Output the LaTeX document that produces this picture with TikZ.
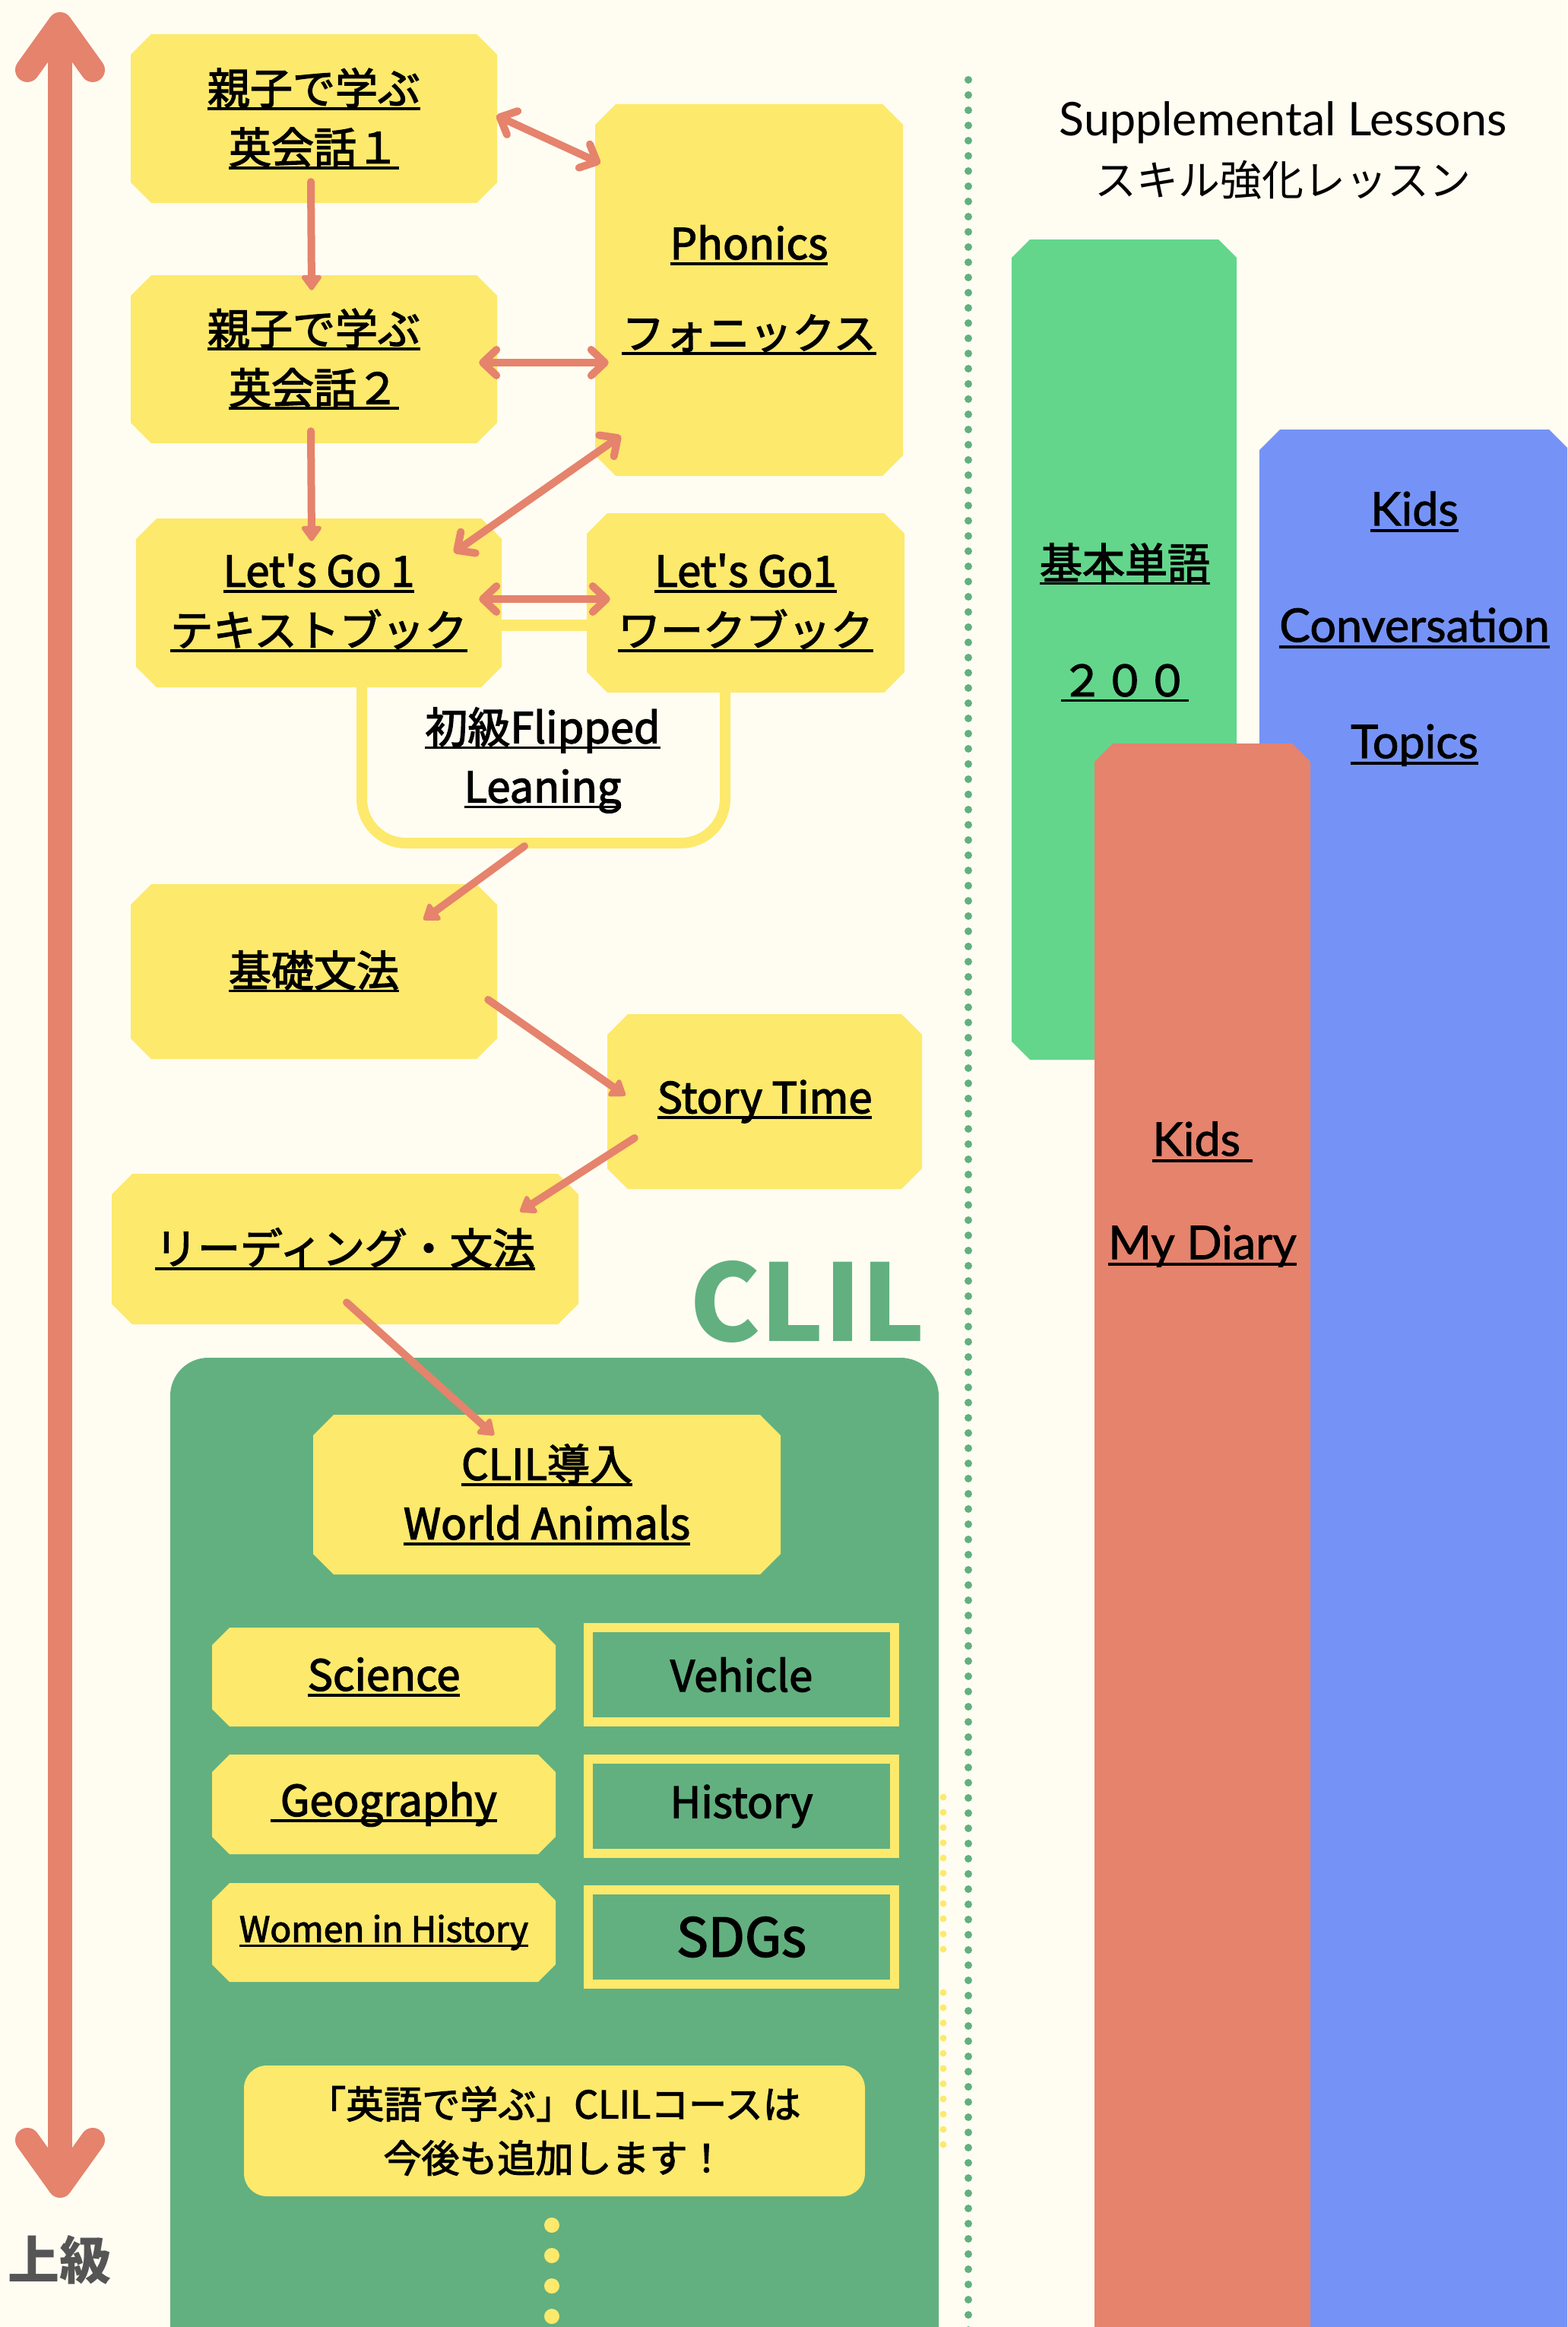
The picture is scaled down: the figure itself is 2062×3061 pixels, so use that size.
\documentclass[tikz,border=0pt]{standalone}
\usepackage{fontspec}
\usetikzlibrary{arrows.meta}
\newfontfamily\jp{Noto Sans CJK JP}[FakeBold=2.4]
\newfontfamily\jpb{Noto Sans CJK JP}
\newfontfamily\lato{Lato}
\newfontfamily\latom{Lato}[FakeBold=1.4]
\font\aposfont="Noto Sans CJK JP:embolden=2.4" at 56pt
\definecolor{cBg}{HTML}{FFFDF2}
\definecolor{cY}{HTML}{FDE96C}
\definecolor{cR}{HTML}{E5836D}
\definecolor{cG}{HTML}{62B07F}
\definecolor{cGr}{HTML}{63D68C}
\definecolor{cB}{HTML}{7593F7}
\definecolor{cGray}{HTML}{555555}
\newsavebox\ulbox
\newcommand\ulx[1]{\leavevmode\sbox\ulbox{#1}\rlap{\rule[-0.14em]{\wd\ulbox}{0.065em}}\usebox\ulbox}
\newcommand\apos{{\aposfont'}}
\tikzset{
  boxtxt/.style={font=\jp\fontsize{56}{78}\selectfont, align=center, inner sep=0pt, text=black},
  sarr/.style={draw=cR, line width=10pt, line cap=round, -{Triangle[width=30pt,length=22pt,round]}},
  darr/.style={draw=cR, line width=10pt, line cap=round, {Straight Barb[length=18pt,width=34pt,round]}-{Straight Barb[length=18pt,width=34pt,round]}},
  bigarr/.style={draw=cR, line width=32pt, {Straight Barb[length=60pt,width=86pt,round]}-{Straight Barb[length=60pt,width=86pt,round]}},
  greenbox/.style={boxtxt, fill=cG, draw=cY, line width=12pt, minimum width=403pt, minimum height=124pt},
}
\newcommand\chbox[8][27]{%
  \fill[#7] (#3+#1,#4) -- (#5-#1,#4) -- (#5,#4+#1) -- (#5,#6-#1) -- (#5-#1,#6) -- (#3+#1,#6) -- (#3,#6-#1) -- (#3,#4+#1) -- cycle;
  \node[boxtxt, minimum width={#5-#3}, minimum height={#6-#4}] (#2) at ({(#3+#5)/2},{(#4+#6)/2}) {#8};}
\begin{document}
\begin{tikzpicture}[x=1pt,y=-1pt]
\useasboundingbox (0,0) rectangle (2062,3061);
\clip (0,0) rectangle (2062,3061);
\fill[cBg] (0,0) rectangle (2062,3061);

% ---------- right column ----------
\node[font=\lato\fontsize{61}{70}\selectfont, anchor=base] (t1) at (1688,179) {Supplemental Lessons};
\node[font=\jpb\fontsize{55}{66}\selectfont, anchor=base] (t2) at (1688,258) {スキル強化レッスン};
\fill[cGr] (1355,315) -- (1603,315) -- (1627,339) -- (1627,1370) -- (1603,1394) -- (1355,1394) -- (1331,1370) -- (1331,339) -- cycle;
\fill[cB] (1684,565) -- (2038,565) -- (2065,592) -- (2065,3100) -- (1657,3100) -- (1657,592) -- cycle;
\fill[cR] (1440,1002) -- (1464,978) -- (1700,978) -- (1724,1002) -- (1724,3100) -- (1440,3100) -- cycle;
\node[align=center, font=\jp\fontsize{56}{77}\selectfont] (vocab) at (1480,819) {\ulx{基本単語}\\[77pt]\ulx{２００}};
\node[align=center, font=\latom\fontsize{61}{153}\selectfont] (kct) at (1861,827) {\ulx{Kids}\\\ulx{Conversation}\\\ulx{Topics}};
\node[align=center, font=\latom\fontsize{61}{136}\selectfont] (kmd) at (1582,1571) {\ulx{Kids\ }\\\ulx{My Diary}};

% dotted separators
\draw[cG, line width=10pt, line cap=round, dash pattern=on 0pt off 20pt] (1274,105) -- (1274,3080);
\draw[cY, line width=9pt, line cap=round, dash pattern=on 0pt off 20pt] (1241,2364) -- (1241,2570);
\draw[cY, line width=9pt, line cap=round, dash pattern=on 0pt off 20pt] (1241,2621) -- (1241,2827);

% ---------- CLIL area ----------
\fill[cG, rounded corners=50pt] (224,1786) rectangle (1235,3140);
\node[font=\jpb\bfseries\fontsize{140}{150}\selectfont, text=cG, anchor=base] (clil) at (1062,1764) {CLIL};

% ---------- level arrow ----------
\coordinate (atop) at (79,16);
\coordinate (abot) at (79,2891);
\draw[bigarr] (atop) -- (abot);
\node[font=\jpb\bfseries\fontsize{68}{70}\selectfont, text=cGray] (jokyu) at (78,2973) {上級};

% ---------- course boxes ----------
\chbox{b1}{172}{45}{654}{267}{cY}{\ulx{親子で学ぶ}\\\ulx{英会話１}}
\chbox{b2}{172}{362}{654}{583}{cY}{\ulx{親子で学ぶ}\\\ulx{英会話２}}
\chbox{ph}{783}{137}{1188}{626}{cY}{\ulx{Phonics}\\[40pt]\ulx{フォニックス}}
\chbox{lg1}{179}{682}{660}{904}{cY}{\ulx{Let\apos s Go 1}\\\ulx{テキストブック}}
\chbox{lgwb}{772}{675}{1190}{911}{cY}{\ulx{Let\apos s Go1}\\\ulx{ワークブック}}
\draw[cY, line width=15pt] ([shift={(-2,29.5)}]lg1.east) -- ([shift={(2,29.5)}]lgwb.west);
\coordinate (fl) at (476,1109);
\coordinate (fr) at (954,1109);
\draw[cY, line width=14pt, rounded corners=58pt] ([shift={(56.5,-4)}]lg1.south) -- (fl) -- (fr) -- ([shift={(-27,-4)}]lgwb.south);
\node[boxtxt] (flip) at (714,1000) {\ulx{初級Flipped}\\\ulx{Leaning}};
\chbox{kiso}{172}{1163}{654}{1393}{cY}{\ulx{基礎文法}}
\chbox{story}{799}{1334}{1213}{1564}{cY}{\ulx{Story Time}}
\chbox{read}{147}{1544}{761}{1742}{cY}{\ulx{リーディング・文法}}
\chbox{cint}{412}{1861}{1027}{2071}{cY}{\ulx{CLIL導入}\\\ulx{World Animals}}
\chbox[23]{sci}{279}{2141}{731}{2271}{cY}{\ulx{Science}}
\chbox[23]{geo}{279}{2308}{731}{2439}{cY}{\ulx{\ Geography}}
\chbox[23]{wom}{279}{2477}{731}{2607}{cY}{\fontsize{46}{50}\selectfont\ulx{Women in History}}
\node[greenbox] (veh) at (975.5,2203) {Vehicle};
\node[greenbox] (his) at (975.5,2376) {History};
\node[greenbox, font=\jp\fontsize{70}{72}\selectfont] (sdg) at (975.5,2548) {SDGs};
\node[boxtxt, font=\jp\fontsize{50}{71}\selectfont, fill=cY, rounded corners=30pt, minimum width=817pt, minimum height=172pt] (note) at (729.5,2803) {「英語で学ぶ」CLILコースは\\今後も追加します！};
\foreach \i/\yy in {1/2927,2/2967,3/3007,4/3047} \fill[cY] (726,\yy) circle (10pt);

% ---------- connectors ----------
\coordinate (fb) at (690,1113);
\draw[sarr] ([shift={(-4,-28)}]b1.south) -- ([shift={(-3,20)}]b2.north);
\draw[darr] ([shift={(-1,-4)}]b1.east) -- ([shift={(7,78)}]ph.north west);
\draw[darr] ([shift={(-24,4.5)}]b2.east) -- ([shift={(18,95.5)}]ph.west);
\draw[sarr] ([shift={(-4,-16)}]b2.south) -- ([shift={(-9.5,30)}]lg1.north);
\draw[darr] ([shift={(-63,45)}]lg1.north east) -- ([shift={(34,-53)}]ph.south west);
\draw[darr] ([shift={(-30,-5)}]lg1.east) -- ([shift={(31,-5)}]lgwb.west);
\draw[sarr] (fb) -- ([shift={(-97,47)}]kiso.north east);
\draw[sarr] ([shift={(-12,37)}]kiso.east) -- ([shift={(24,-8)}]story.west);
\draw[sarr] ([shift={(36,48)}]story.west) -- ([shift={(-77,50)}]read.north east);
\draw[sarr] ([shift={(2,-29)}]read.south) -- ([shift={(-69.5,27)}]cint.north);
\end{tikzpicture}
\end{document}
